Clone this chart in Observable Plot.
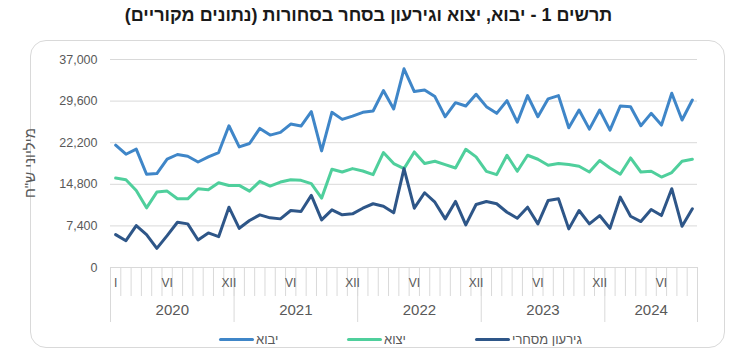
<!DOCTYPE html>
<html><head><meta charset="utf-8">
<script src="https://cdn.jsdelivr.net/npm/d3@7"></script>
<script src="https://cdn.jsdelivr.net/npm/@observablehq/plot@0.6"></script>
<style>
body{margin:0;width:737px;height:358px;position:relative;background:#fff;font-family:"Liberation Sans",Arial,sans-serif;overflow:hidden}
#title{position:absolute;top:5px;left:0;width:737px;text-align:center;font-weight:bold;font-size:18px;color:#1a1a1a;direction:rtl}
#box{position:absolute;left:30px;top:40px;width:695px;height:308px;border:1.5px solid #d9d9d9;border-radius:16px;box-sizing:border-box}
#chart{position:absolute;left:0;top:40px}
#ylab{position:absolute;left:29px;top:163px;transform:translate(-50%,-50%) rotate(-90deg);font-size:15px;color:#595959;white-space:nowrap;direction:rtl}
#legend{position:absolute;top:331px;left:0;width:737px;height:16px;font-size:13px;color:#595959}
.item{position:absolute;top:0;display:flex;align-items:center;height:16px}
.sw{display:inline-block;width:35px;height:3px;border-radius:2px;margin-right:2px}
.lt{direction:rtl}
</style></head>
<body>
<div id="title">תרשים 1 - יבוא, יצוא וגירעון בסחר בסחורות (נתונים מקוריים)</div>
<div id="box"></div>
<div id="chart"></div>
<div id="ylab">מיליוני ש"ח</div>
<div id="legend"></div>
<script>
const years = ["2020", "2021", "2022", "2023", "2024"];
const monthsInYear = [12, 12, 12, 12, 9];
const monthTickIdx = [0, 5, 11, 17, 23, 29, 35, 41, 47, 53];
const monthTickText = ["I", "VI", "XII", "VI", "XII", "VI", "XII", "VI", "XII", "VI"];
const yTicks = [0, 7400, 14800, 22200, 29600, 37000];

const seriesNames = ["יבוא", "יצוא", "גירעון מסחרי"];
const seriesColors = ["#3F86C8", "#4FCF9C", "#2E5688"];

const imports = [21760,20150,21050,16580,16700,19260,20100,19790,18770,19670,20450,25210,
  21460,22060,24740,23550,24030,25510,25160,27720,20740,27600,26350,26940,
  27600,27840,31470,28200,35350,31290,31590,30400,26820,29320,28730,30820,
  28610,27420,29680,25850,30580,26820,30000,30580,24850,28020,24620,28020,
  24440,28730,28610,25210,27420,25330,31000,26230,29800];
const exports_ = [15910,15620,13710,10610,13410,13590,12220,12220,14010,13830,15080,14600,
  14600,13590,15320,14490,15200,15620,15500,14910,12340,17470,16990,17590,
  17170,16520,20450,18490,17590,20560,18490,18900,18310,17700,21040,19670,
  17110,16520,19970,17110,19970,19260,18180,18490,18310,18000,16990,19020,
  17700,16580,19490,16990,17110,16090,16880,18900,19260];
const deficit = [5850,4770,7460,5850,3400,5670,8050,7760,4900,6150,5490,10730,
  6970,8350,9370,8830,8650,10140,9960,12820,8470,10260,9370,9550,
  10550,11340,10910,9730,17590,10550,13300,11620,8650,11750,7580,11210,
  11750,11340,9830,8760,10730,7760,11930,12230,6870,10140,7760,9240,
  6970,12520,9120,8170,10320,9240,14020,7330,10440];

const N = imports.length;
const monthBounds = d3.range(0, N + 1).map(i => i - 0.5);
const cum = [0];
monthsInYear.forEach((m, k) => cum.push(cum[k] + m));
const yearBounds = cum.map(c => c - 0.5);
const yearCenters = monthsInYear.map((m, k) => cum[k] + (m - 1) / 2);

const chart = Plot.plot({
  width: 737, height: 290,
  marginLeft: 110, marginRight: 40, marginTop: 19, marginBottom: 63,
  style: {fontFamily: '"Liberation Sans", Arial, sans-serif', color: "#595959", background: "transparent"},
  x: {domain: [-0.5, N - 0.5], axis: null},
  y: {domain: [0, 37000], axis: null},
  marks: [
    Plot.ruleY(yTicks, {stroke: "#d9d9d9", strokeWidth: 1}),
    Plot.axisY(yTicks, {tickSize: 0, tickPadding: 13, tickFormat: d3.format(","), fontSize: 12.5, fill: "#595959", label: null}),
    Plot.axisX(monthBounds, {tickSize: 29, tickFormat: () => "", stroke: "#d9d9d9", strokeOpacity: 1, label: null}),
    Plot.axisX(yearBounds, {tickSize: 55, tickFormat: () => "", stroke: "#d9d9d9", strokeOpacity: 1, label: null}),
    Plot.axisX(monthTickIdx, {tickSize: 0, tickPadding: 11, fontSize: 12, fill: "#595959", label: null,
      tickFormat: d => monthTickText[monthTickIdx.indexOf(d)]}),
    Plot.axisX(yearCenters, {tickSize: 0, tickPadding: 37, fontSize: 15, fill: "#595959", label: null,
      tickFormat: d => years[yearCenters.indexOf(d)]}),
    Plot.lineY(imports, {stroke: seriesColors[0], strokeWidth: 3, strokeLinejoin: "round"}),
    Plot.lineY(exports_, {stroke: seriesColors[1], strokeWidth: 3, strokeLinejoin: "round"}),
    Plot.lineY(deficit, {stroke: seriesColors[2], strokeWidth: 3, strokeLinejoin: "round"})
  ]
});
document.getElementById("chart").append(chart);

const legendLeft = [219, 347, 475];
const lg = document.getElementById("legend");
seriesNames.forEach((n, k) => {
  const it = document.createElement("div");
  it.className = "item";
  it.style.left = legendLeft[k] + "px";
  it.innerHTML = `<span class="sw" style="background:${seriesColors[k]}"></span><span class="lt">${n}</span>`;
  lg.append(it);
});
</script>
</body></html>
